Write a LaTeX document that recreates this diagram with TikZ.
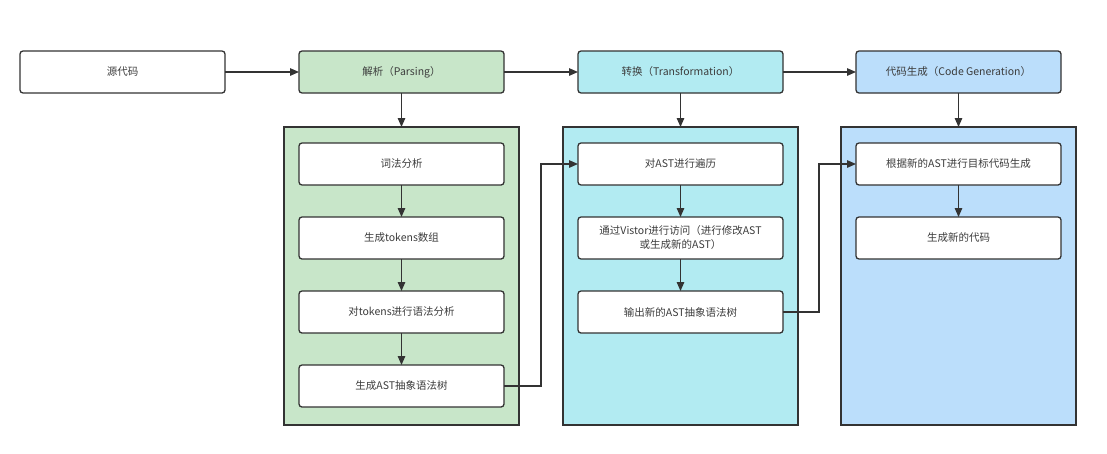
\documentclass[tikz,border=0pt]{standalone}
\usepackage{fontspec}
\setmainfont{Noto Sans CJK SC}
\usetikzlibrary{positioning,fit,backgrounds,arrows.meta,calc}
\definecolor{cgline}{RGB}{51,51,51}
\definecolor{cgtext}{RGB}{60,60,60}
\definecolor{cgparse}{RGB}{200,230,201}
\definecolor{cgtrans}{RGB}{178,235,242}
\definecolor{cggen}{RGB}{187,222,251}
\tikzset{
  stage/.style={
    draw=cgline, line width=1.3pt, rounded corners=3pt, fill=white,
    minimum width=205pt, minimum height=42pt, inner sep=3pt, outer sep=0pt,
    font=\fontsize{10.5}{14}\selectfont, text=cgtext, align=center
  },
  substep/.style={stage},
  groupbox/.style={draw=cgline, line width=1.3pt},
  ar/.style={-{Triangle[length=9pt,width=7.5pt]}, draw=cgline, line width=1.3pt},
}

\begin{document}
\begin{tikzpicture}[x=1pt, y=-1pt]
  \useasboundingbox (0,0) rectangle (1107,453);

  % ===== top row: the four stages =====
  \node[stage] (src) at (122.5,72) {源代码};
  \node[stage, fill=cgparse, right=74pt of src] (parse) {解析（Parsing）};
  \node[stage, fill=cgtrans, right=74pt of parse] (trans) {转换（Transformation）};
  \node[stage, fill=cggen, right=73pt of trans] (gen) {代码生成（Code Generation）};

  % ===== parsing steps =====
  \node[substep, below=50pt of parse] (lex) {词法分析};
  \node[substep, below=32pt of lex] (toks) {生成tokens数组};
  \node[substep, below=32pt of toks] (syn) {对tokens进行语法分析};
  \node[substep, below=32pt of syn] (ast) {生成AST抽象语法树};

  % ===== transformation steps =====
  \node[substep, below=50pt of trans] (walk) {对AST进行遍历};
  \node[substep, below=32pt of walk] (visit) {通过Vistor进行访问（进行修改AST\\或生成新的AST）};
  \node[substep, below=32pt of visit] (emit) {输出新的AST抽象语法树};

  % ===== generation steps =====
  \node[substep, below=50pt of gen] (target) {根据新的AST进行目标代码生成};
  \node[substep, below=32pt of target] (newcode) {生成新的代码};

  % ===== group boxes =====
  \begin{scope}[on background layer]
    \draw[groupbox, fill=cgparse] ([xshift=-15pt,yshift=16pt]lex.north west) rectangle ([xshift=15pt,yshift=-18pt]ast.south east);
    \draw[groupbox, fill=cgtrans] ([xshift=-15pt,yshift=16pt]walk.north west) rectangle ([xshift=15pt,yshift=-18pt]walk.east |- ast.south);
    \draw[groupbox, fill=cggen] ([xshift=-15pt,yshift=16pt]target.north west) rectangle ([xshift=15pt,yshift=-18pt]target.east |- ast.south);
  \end{scope}

  % ===== edges =====
  \draw[ar] (src) -- (parse);
  \draw[ar] (parse) -- (trans);
  \draw[ar] (trans) -- (gen);
  \draw[ar] (parse.south) -- ([yshift=16pt]lex.north);
  \draw[ar] (trans.south) -- ([yshift=16pt]walk.north);
  \draw[ar] (gen.south) -- ([yshift=16pt]target.north);

  \draw[ar] (lex) -- (toks);
  \draw[ar] (toks) -- (syn);
  \draw[ar] (syn) -- (ast);
  \draw[ar] (walk) -- (visit);
  \draw[ar] (visit) -- (emit);
  \draw[ar] (target) -- (newcode);

  % hand-over between the groups
  \coordinate (bus1) at ([xshift=37pt]ast.east);
  \coordinate (bus2) at ([xshift=36pt]emit.east);
  \draw[ar] (ast.east) -- (bus1) |- (walk.west);
  \draw[ar] (emit.east) -- (bus2) |- (target.west);

\end{tikzpicture}
\end{document}
